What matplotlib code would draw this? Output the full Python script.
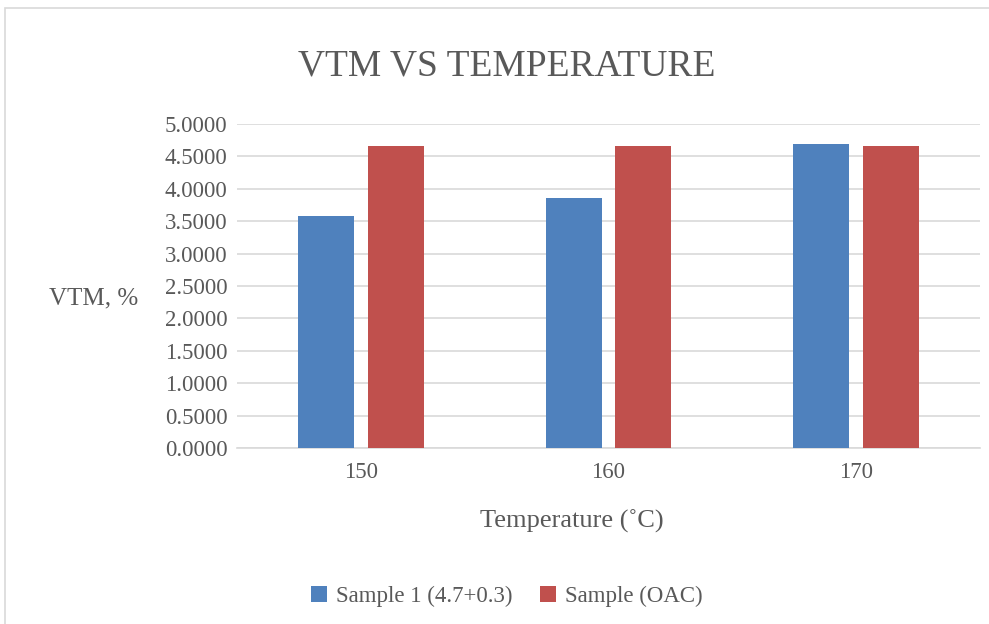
import matplotlib
matplotlib.use("Agg")
import matplotlib.pyplot as plt
from matplotlib.patches import Rectangle
import numpy as np

categories = ["150", "160", "170"]
sample1 = [3.58, 3.86, 4.69]
sample_oac = [4.66, 4.66, 4.66]
series_names = ["Sample 1 (4.7+0.3)", "Sample (OAC)"]
yticks = [0.0, 0.5, 1.0, 1.5, 2.0, 2.5, 3.0, 3.5, 4.0, 4.5, 5.0]

plt.rcParams['font.family'] = ['Liberation Serif', 'DejaVu Serif']
txt = '#595959'

fig = plt.figure(figsize=(9.89, 6.24), dpi=100)
fig.patches.append(Rectangle((5/989, -0.01), 1.1, 1 - 8/624 + 0.01, transform=fig.transFigure,
                             fill=False, edgecolor='#d9d9d9', linewidth=1.2))
ax = fig.add_axes([237/989, 1 - 448/624, 743/989, 324/624])

x = np.arange(len(categories))
w = 0.226
ax.bar(x - 0.141, sample1, w, color='#4F81BD', label=series_names[0], zorder=3)
ax.bar(x + 0.141, sample_oac, w, color='#C0504D', label=series_names[1], zorder=3)

ax.set_xlim(-0.5, 2.5)
ax.set_ylim(0, 5)
ax.set_yticks(yticks)
ax.set_yticklabels([f"{v:.4f}" for v in yticks])
ax.set_xticks(x)
ax.set_xticklabels(categories)
ax.tick_params(axis='both', length=0, labelsize=16.5, colors=txt)
ax.tick_params(axis='y', pad=7)
ax.tick_params(axis='x', pad=10)
ax.yaxis.grid(True, color='#d9d9d9', linewidth=1.2, zorder=0)
ax.set_axisbelow(True)
for s in ['top', 'right', 'left']:
    ax.spines[s].set_visible(False)
ax.spines['bottom'].set_color('#d9d9d9')
ax.spines['bottom'].set_linewidth(1.2)

fig.text(507/989, 1 - 66/624, "VTM VS TEMPERATURE", ha='center', va='center', fontsize=27, color=txt)
fig.text(49/989, 1 - 298/624, "VTM, %", ha='left', va='center', fontsize=18, color=txt)
fig.text(572/989, 1 - 521/624, "Temperature (˚C)", ha='center', va='center', fontsize=19, color=txt)

leg = fig.legend(loc='center', bbox_to_anchor=(507/989, 1 - 596/624), ncol=2, frameon=False,
                 fontsize=16.5, handlelength=0.7, handleheight=0.7, handletextpad=0.4, columnspacing=1.2)
for t in leg.get_texts():
    t.set_color(txt)

fig.savefig("out.png", dpi=100)
